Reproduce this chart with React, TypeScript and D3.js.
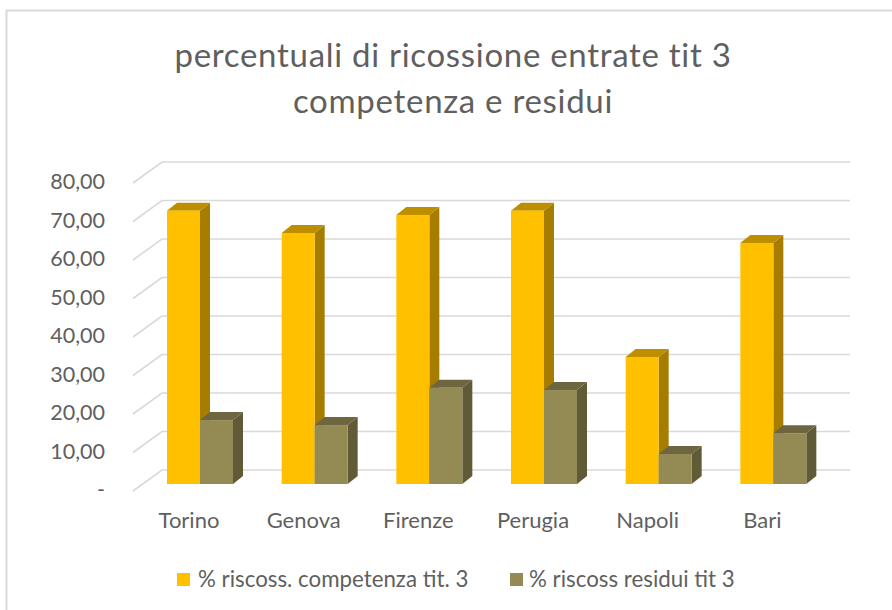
import React from "react";
import * as d3 from "d3";

const categories = ["Torino", "Genova", "Firenze", "Perugia", "Napoli", "Bari"];
const competenza = [71.0, 65.2, 69.9, 71.0, 33.0, 62.6];
const residui = [16.6, 15.3, 25.0, 24.4, 7.8, 13.2];
const ticks = [0, 10, 20, 30, 40, 50, 60, 70, 80];
const tickLabels = ["-", "10,00", "20,00", "30,00", "40,00", "50,00", "60,00", "70,00", "80,00"];
const seriesNames = ["% riscoss. competenza tit. 3", "% riscoss residui tit 3"];
const titleLines = ["percentuali di ricossione entrate tit 3", "competenza e residui"];

const FONT = "Lato, 'Open Sans', sans-serif";
const TEXT = "#5f5f5f";
const COL = [
  { front: "#FFC000", side: "#A67D00", top: "#BC8E00" },
  { front: "#948A54", side: "#605A36", top: "#6E6640" },
];

const W = 892, H = 610;
const y = d3.scaleLinear().domain([0, 80]).range([484, 176]);
const x = d3.scaleBand().domain(categories).range([133, 821]).paddingInner(0).paddingOuter(0);
const DX = 29, DY = 21;      // floor depth
const BX = 10, BY = 8;       // bar depth

function Bar({ x0, w, v, c }: { x0: number; w: number; v: number; c: typeof COL[0] }) {
  const t = y(v), b = y(0);
  const pts = (p: number[][]) => p.map((q) => q.join(",")).join(" ");
  return (
    <g>
      <polygon fill={c.side} points={pts([[x0 + w, t], [x0 + w + BX, t - BY], [x0 + w + BX, b - BY], [x0 + w, b]])} />
      <polygon fill={c.top} points={pts([[x0, t], [x0 + BX, t - BY], [x0 + w + BX, t - BY], [x0 + w, t]])} />
      <rect x={x0} y={t} width={w} height={b - t} fill={c.front} />
    </g>
  );
}

export default function App() {
  const barW = 33;
  return (
    <svg width={W} height={H} style={{ position: "absolute", left: 0, top: 0 }}>
      <rect width={W} height={H} fill="#fff" />
      <path d={`M6.5 ${H} V10.5 H${W}`} fill="none" stroke="#d9d9d9" strokeWidth={2} />
      {titleLines.map((l, i) => (
        <text key={l} x={453} y={67 + i * 46} textAnchor="middle" fontFamily={FONT} fontSize={33} letterSpacing={0.7} fill={TEXT}>{l}</text>
      ))}
      {ticks.map((t, i) => (
        <g key={t}>
          <path d={`M${x.range()[0]} ${y(t) + 7} L${x.range()[0] + DX} ${y(t) + 7 - DY} H850`} fill="none" stroke="#d9d9d9" strokeWidth={1.6} />
          <text x={105} y={y(t) + 13} textAnchor="end" fontFamily={FONT} fontSize={21.5} fill={TEXT}>{tickLabels[i]}</text>
        </g>
      ))}
      {categories.map((cat, i) => {
        const x0 = (x(cat) as number) + 34;
        return (
          <g key={cat}>
            <Bar x0={x0} w={barW} v={competenza[i]} c={COL[0]} />
            <Bar x0={x0 + barW} w={barW} v={residui[i]} c={COL[1]} />
            <text x={x0 + 22} y={528} textAnchor="middle" fontFamily={FONT} fontSize={22} fill={TEXT}>{cat}</text>
          </g>
        );
      })}
      <rect x={177} y={573} width={13} height={13} fill={COL[0].front} />
      <text x={198} y={587} fontFamily={FONT} fontSize={22.3} fill={TEXT}>{seriesNames[0]}</text>
      <rect x={510} y={573} width={13} height={13} fill={COL[1].front} />
      <text x={529} y={587} fontFamily={FONT} fontSize={22.3} fill={TEXT}>{seriesNames[1]}</text>
    </svg>
  );
}
